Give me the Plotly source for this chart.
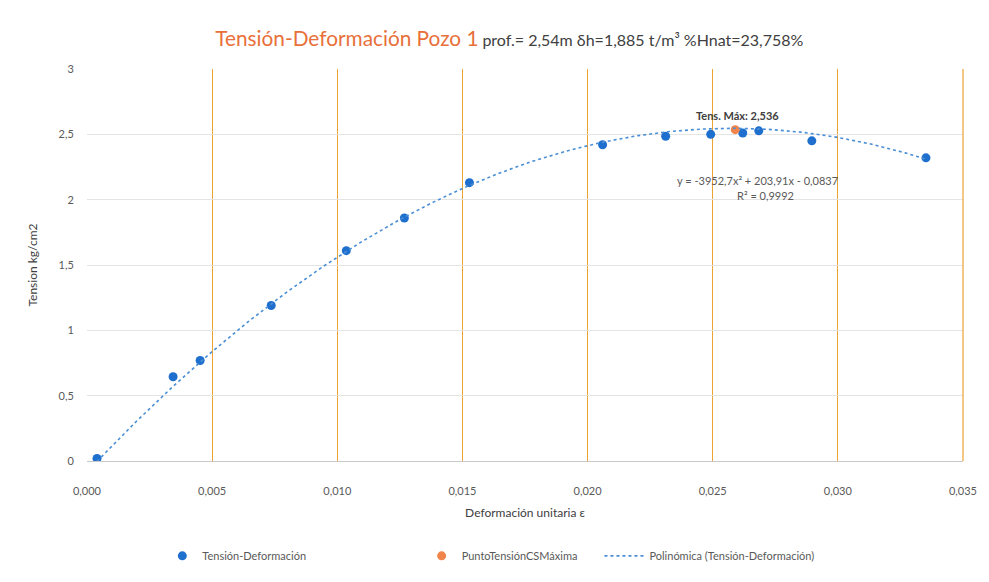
import numpy as np
import plotly.graph_objects as go

# Ensayo de compresión: deformación unitaria vs tensión
deformacion = [0.0004, 0.00344, 0.00452, 0.00736, 0.01036, 0.01268, 0.01528,
               0.0206, 0.02312, 0.02492, 0.0262, 0.02684, 0.02896, 0.03352]
tension = [0.02, 0.645, 0.769, 1.19, 1.61, 1.86, 2.13,
           2.42, 2.485, 2.50, 2.51, 2.527, 2.45, 2.32]

# Punto de tensión máxima
max_def = [0.0259]
max_ten = [2.536]

# Coeficientes de la línea de tendencia polinómica (orden 2)
coef = [-3952.7, 203.91, -0.0837]
r2 = 0.9992

x_fit = np.linspace(min(deformacion), max(deformacion), 200)
y_fit = np.polyval(coef, x_fit)

font_family = "Lato, 'Open Sans', sans-serif"
grid_orange = "#eda234"

fig = go.Figure()

fig.add_trace(go.Scatter(
    x=deformacion, y=tension, mode="markers",
    name="Tensión-Deformación", legend="legend", showlegend=True,
    marker=dict(color="#1f6fce", size=9, symbol="circle"),
))
fig.add_trace(go.Scatter(
    x=max_def, y=max_ten, mode="markers",
    name="PuntoTensiónCSMáxima", legend="legend2", showlegend=True,
    marker=dict(color="#f0844a", size=9, symbol="circle"),
))
fig.add_trace(go.Scatter(
    x=x_fit, y=y_fit, mode="lines",
    name="Polinómica (Tensión-Deformación)", legend="legend3", showlegend=True,
    line=dict(color="#4a8fd6", width=1.6, dash="dot"),
))

fig.add_annotation(
    x=max_def[0], y=max_ten[0], text="<b>Tens. Máx: 2,536</b>",
    showarrow=False, yshift=14, xshift=2,
    font=dict(size=11, color="#404040", family=font_family),
)
eq_text = (f"y = {coef[0]:.1f}x² + {coef[1]:.2f}x - {abs(coef[2]):.4f}"
           .replace(".", ","))
fig.add_annotation(
    x=0.0268, y=2.15, text=eq_text, showarrow=False,
    font=dict(size=11, color="#595959", family=font_family),
)
fig.add_annotation(
    x=0.0271, y=2.035, text=f"R² = {r2:.4f}".replace(".", ","), showarrow=False,
    font=dict(size=11, color="#595959", family=font_family),
)

# Borde derecho del área de trazado (línea de cuadrícula en 0,035)
fig.add_shape(type="line", xref="paper", yref="paper", x0=1, x1=1, y0=0, y1=1,
              line=dict(color=grid_orange, width=1.2))

legend_common = dict(orientation="h", yanchor="top", y=-0.205, visible=True,
                     font=dict(size=11, color="#595959"), bgcolor="rgba(0,0,0,0)")

fig.update_layout(
    width=989, height=582,
    showlegend=True,
    margin=dict(l=87, r=22, t=69, b=120),
    paper_bgcolor="white", plot_bgcolor="white",
    separators=",.",
    font=dict(family=font_family, color="#595959", size=11),
    title=dict(
        text=("<span style='color:#e8703a;font-size:20.8px'>Tensión-Deformación Pozo 1</span>"
              " <span style='color:#404040;font-size:16px'>prof.= 2,54m δh=1,885 t/m³ %Hnat=23,758%</span>"),
        x=0.515, xanchor="center", y=0.93, yanchor="middle",
    ),
    xaxis=dict(
        range=[0, 0.035], dtick=0.005, tick0=0, tickformat=".3f",
        showgrid=True, gridcolor=grid_orange, gridwidth=1.2,
        zeroline=False, showline=False,
        ticks="outside", ticklen=20, tickcolor="rgba(0,0,0,0)",
        title=dict(text="Deformación unitaria ε", font=dict(size=12, color="#404040"), standoff=12),
        tickfont=dict(size=11, color="#595959"),
    ),
    yaxis=dict(
        range=[0, 3], dtick=0.5, tick0=0,
        showgrid=True, gridcolor="#e4e4e4", gridwidth=1,
        zeroline=True, zerolinecolor="#c8c8c8", zerolinewidth=1,
        showline=False,
        ticks="outside", ticklen=10, tickcolor="rgba(0,0,0,0)",
        title=dict(text="Tension kg/cm2", font=dict(size=12, color="#404040"), standoff=18),
        tickfont=dict(size=11, color="#595959"),
    ),
    legend=dict(x=0.086, xanchor="left", itemwidth=30, **legend_common),
    legend2=dict(x=0.382, xanchor="left", itemwidth=30, **legend_common),
    legend3=dict(x=0.585, xanchor="left", itemwidth=40, **legend_common),
)

fig.write_html("out.html")
